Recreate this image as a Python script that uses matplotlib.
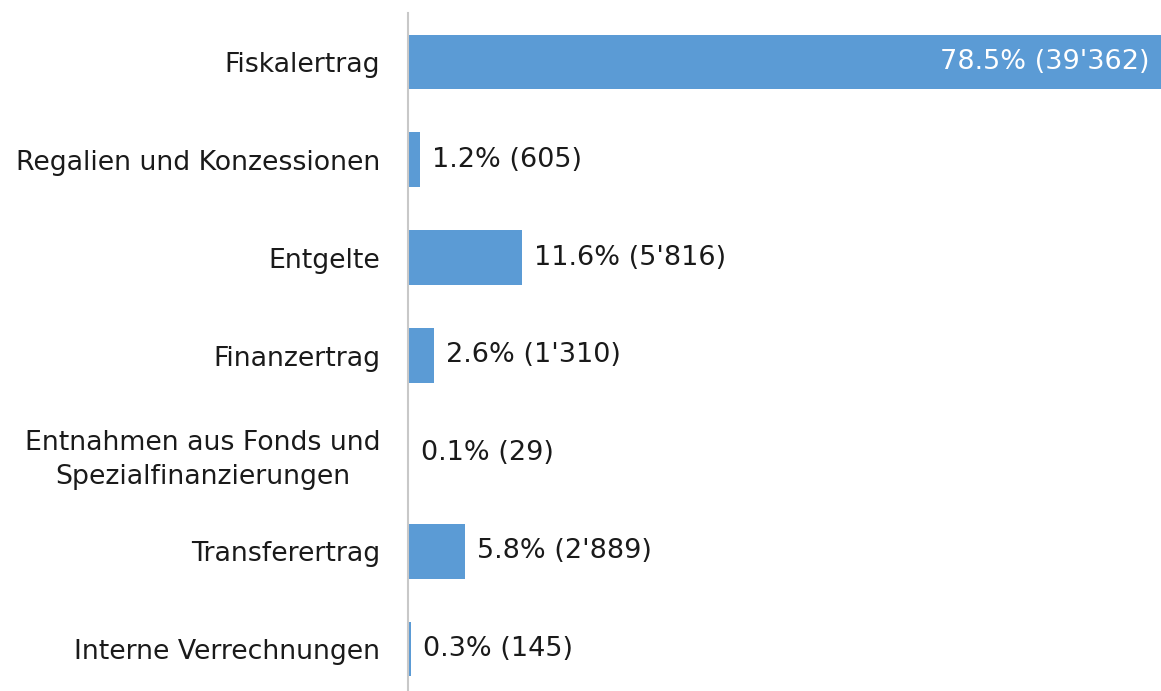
import numpy as np
import matplotlib.pyplot as plt

categories = ['Fiskalertrag', 'Regalien und Konzessionen', 'Entgelte', 'Finanzertrag',
              'Entnahmen aus Fonds und\nSpezialfinanzierungen', 'Transferertrag',
              'Interne Verrechnungen']
values = [39362, 605, 5816, 1310, 29, 2889, 145]
shares = [78.5, 1.2, 11.6, 2.6, 0.1, 5.8, 0.3]

def fmt_num(v):
    return f"{v:,}".replace(',', "'")

fig = plt.figure(figsize=(11.61, 6.91), dpi=100)
ax = fig.add_axes([408 / 1161, -7 / 691, 1 - 408 / 1161, 685 / 691])

y = np.arange(len(categories))
bars = ax.barh(y, values, height=0.56, color='#5B9BD5')
ax.set_ylim(len(categories) - 0.5, -0.5)
ax.set_xlim(0, 38500)

ax.set_yticks(y, labels=categories, fontsize=19.3, color='#1a1a1a')
ax.tick_params(axis='y', length=0, pad=20)
for lbl in ax.get_yticklabels():
    lbl.set_horizontalalignment('right')
    lbl.set_multialignment('center')
    lbl.set_linespacing(1.4)
ax.set_xticks([])

for s in ['top', 'right', 'bottom']:
    ax.spines[s].set_visible(False)
ax.spines['left'].set_color('#c8c8c8')
ax.spines['left'].set_linewidth(1.5)

for i, (v, p) in enumerate(zip(values, shares)):
    txt = f"{p}% ({fmt_num(v)})"
    if i == 0:
        ax.annotate(txt, (ax.get_xlim()[1], i), xytext=(-8, 0), textcoords='offset points',
                    ha='right', va='center', fontsize=19.5, color='white')
    else:
        ax.annotate(txt, (v, i), xytext=(9, 0), textcoords='offset points',
                    ha='left', va='center', fontsize=19.5, color='#1a1a1a')

fig.savefig('out.png', dpi=100)
